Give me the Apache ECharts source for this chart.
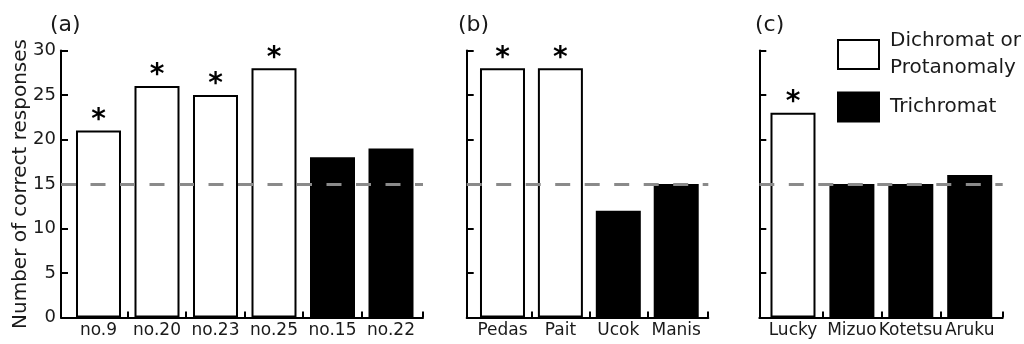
<!DOCTYPE html>
<html><head><meta charset="utf-8">
<script src="https://cdn.jsdelivr.net/npm/echarts@6/dist/echarts.min.js"></script>
<style>html,body{margin:0;padding:0;background:#fff}#c{width:1024px;height:344px}</style>
</head><body><div id="c"></div>
<script>
// ---- data ----
const catsA = ['no.9', 'no.20', 'no.23', 'no.25', 'no.15', 'no.22'];
const valsA = [21, 26, 25, 28, 18, 19];
const groupA = ['D', 'D', 'D', 'D', 'T', 'T'];
const starA = [true, true, true, true, false, false];

const catsB = ['Pedas', 'Pait', 'Ucok', 'Manis'];
const valsB = [28, 28, 12, 15];
const groupB = ['D', 'D', 'T', 'T'];
const starB = [true, true, false, false];

const catsC = ['Lucky', 'Mizuo', 'Kotetsu', 'Aruku'];
const valsC = [23, 15, 15, 16];
const groupC = ['D', 'T', 'T', 'T'];
const starC = [true, false, false, false];

const chanceLevel = 15;
const panelLabels = ['(a)', '(b)', '(c)'];
const seriesNames = ['Dichromat or\nProtanomaly', 'Trichromat'];
const yAxisName = 'Number of correct responses';
const yMin = 0, yMax = 30, yStep = 5;

// ---- layout ----
const FONT = 'DejaVu Sans';
const TXT = '#1a1a1a';
const panels = [
  {cats: catsA, vals: valsA, grp: groupA, star: starA, left: 61, width: 362, xmin: -0.641, xmax: 5.547, lab: panelLabels[0], labLeft: 50},
  {cats: catsB, vals: valsB, grp: groupB, star: starB, left: 466.7, width: 241.6, xmin: -0.618, xmax: 3.554, lab: panelLabels[1], labLeft: 458},
  {cats: catsC, vals: valsC, grp: groupC, star: starC, left: 759.3, width: 243.4, xmin: -0.572, xmax: 3.560, lab: panelLabels[2], labLeft: 755}
];
const TOP = 50.5, HEIGHT = 267;

const grid = [], xAxis = [], yAxis = [], series = [], title = [];
panels.forEach((p, gi) => {
  grid.push({left: p.left, top: TOP, width: p.width, height: HEIGHT});
  title.push({text: p.lab, left: p.labLeft, top: 14, padding: 0,
    textStyle: {fontFamily: FONT, fontSize: 22, fontWeight: 'normal', color: TXT}});
  const n = p.cats.length;
  const tickVals = [];
  for (let i = 0; i < n - 1; i++) tickVals.push(i + 0.5);
  tickVals.push(p.xmax - 0.001);
  const labelVals = p.cats.map((c, i) => i);
  xAxis.push({
    type: 'value', gridIndex: gi, min: p.xmin, max: p.xmax,
    axisLine: {show: true, onZero: false, lineStyle: {color: '#000', width: 2}},
    axisTick: {show: true, inside: true, length: 6, customValues: tickVals, lineStyle: {color: '#000', width: 2}},
    axisLabel: {show: true, customValues: labelVals, formatter: v => p.cats[Math.round(v)],
      hideOverlap: false,
      margin: 5, fontFamily: FONT, fontSize: 17, color: TXT},
    splitLine: {show: false}
  });
  yAxis.push({
    type: 'value', gridIndex: gi, min: yMin, max: yMax, interval: yStep,
    name: gi === 0 ? yAxisName : '', nameLocation: 'middle', nameGap: 30, nameMoveOverlap: false,
    nameTextStyle: {fontFamily: FONT, fontSize: 20, color: TXT},
    axisLine: {show: true, onZero: false, lineStyle: {color: '#000', width: 2}},
    axisTick: {show: true, inside: true, length: 7, lineStyle: {color: '#000', width: 2}},
    axisLabel: {show: gi === 0, margin: 5, fontFamily: FONT, fontSize: 18, color: TXT},
    splitLine: {show: false}
  });
  ['D', 'T'].forEach((g, si) => {
    const data = [];
    p.cats.forEach((c, i) => {
      if (p.grp[i] === g) data.push({value: [i, p.vals[i]], label: {show: p.star[i]}});
    });
    const s = {
      type: 'bar', name: seriesNames[si], xAxisIndex: gi, yAxisIndex: gi,
      data: data, barWidth: 45, barGap: '-100%',
      itemStyle: {color: g === 'D' ? '#fff' : '#000', borderColor: '#000', borderWidth: 2},
      label: {show: false, position: 'top', distance: -4, formatter: () => '*',
        fontFamily: FONT, fontSize: 28, fontWeight: 'bold', color: '#000'},
      emphasis: {disabled: true},
      z: 2
    };
    if (si === 1) {
      s.markLine = {
        silent: true, symbol: ['none', 'none'], label: {show: false}, z: 10,
        lineStyle: {color: '#8a8a8a', width: 3, type: [15, 14.5]},
        emphasis: {disabled: true},
        data: [{yAxis: chanceLevel}]
      };
    }
    series.push(s);
  });
});

const option = {
  animation: false,
  backgroundColor: '#fff',
  title: title,
  grid: grid, xAxis: xAxis, yAxis: yAxis, series: series,
  legend: {
    orient: 'vertical', left: 837, top: 27.5, padding: 0,
    itemWidth: 41, itemHeight: 29, itemGap: 10, selectedMode: false,
    textStyle: {fontFamily: FONT, fontSize: 20, lineHeight: 27, color: TXT, padding: [0, 0, 0, 6]},
    data: [
      {name: seriesNames[0], icon: 'rect', itemStyle: {color: '#fff', borderColor: '#000', borderWidth: 2}},
      {name: seriesNames[1], icon: 'rect', itemStyle: {color: '#000', borderColor: '#000', borderWidth: 2}}
    ]
  }
};
const chart = echarts.init(document.getElementById('c'), null, {renderer: 'canvas'});
chart.setOption(option);
</script>
</body></html>
